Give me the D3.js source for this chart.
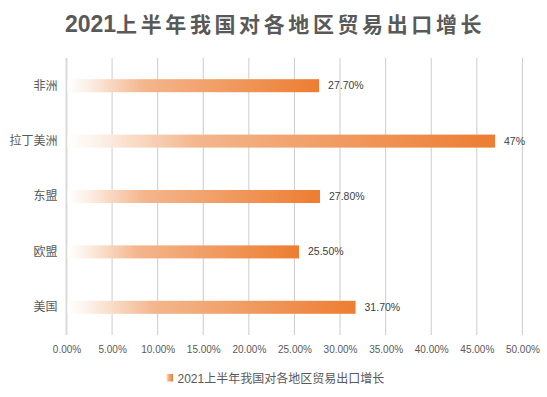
<!DOCTYPE html>
<html>
<head>
<meta charset="utf-8">
<title>2021上半年我国对各地区贸易出口增长</title>
<script src="https://cdn.jsdelivr.net/npm/d3@7/dist/d3.min.js"></script>
<style>
  body { margin: 0; background: #fff; }
  svg { display: block; font-family: "Liberation Sans", "Noto Sans CJK SC", sans-serif; }
</style>
</head>
<body>
<div id="chart"></div>
<script>
// data
var regions = ["非洲", "拉丁美洲", "东盟", "欧盟", "美国"];
var growth = [0.277, 0.47, 0.278, 0.255, 0.317];
var growthLabels = ["27.70%", "47%", "27.80%", "25.50%", "31.70%"];
var xTicks = [0, 0.05, 0.10, 0.15, 0.20, 0.25, 0.30, 0.35, 0.40, 0.45, 0.50];
var seriesName = "2021上半年我国对各地区贸易出口增长";
var titleYear = "2021";
var titleRest = "上半年我国对各地区贸易出口增长";

var W = 547, H = 397;
var plotTop = 58, plotBottom = 335, plotLeft = 66.5, plotRight = 522.4;

var svg = d3.select("#chart").append("svg").attr("width", W).attr("height", H);

// gradient: white on the left -> orange on the right, per bar
var defs = svg.append("defs");
var grad = defs.append("linearGradient").attr("id", "barGrad")
  .attr("x1", "0%").attr("x2", "100%").attr("y1", "0%").attr("y2", "0%");
grad.append("stop").attr("offset", "0%").attr("stop-color", "#ffffff");
grad.append("stop").attr("offset", "8%").attr("stop-color", "#fcefe6");
grad.append("stop").attr("offset", "30%").attr("stop-color", "#f4b68d");
grad.append("stop").attr("offset", "100%").attr("stop-color", "#ed7d31");

var x = d3.scaleLinear().domain([0, 0.5]).range([plotLeft, plotRight]);
var y = d3.scaleBand().domain(regions).range([plotTop, plotBottom])
  .paddingInner(0.765).paddingOuter(0.3825);

// title
var title = svg.append("text")
  .attr("x", 275).attr("y", 32)
  .attr("text-anchor", "middle")
  .attr("font-size", 21).attr("font-weight", "bold")
  .attr("fill", "#595959");
title.append("tspan").attr("font-size", 23).text(titleYear);
title.append("tspan").attr("letter-spacing", 3.6).text(titleRest);

// vertical gridlines
svg.append("g").selectAll("line").data(xTicks.slice(1)).join("line")
  .attr("x1", d => x(d)).attr("x2", d => x(d))
  .attr("y1", plotTop).attr("y2", plotBottom)
  .attr("stroke", "#cccccc").attr("stroke-width", 1);

// category axis line at 0
svg.append("line")
  .attr("x1", x(0)).attr("x2", x(0)).attr("y1", plotTop).attr("y2", plotBottom)
  .attr("stroke", "#d9d9d9").attr("stroke-width", 2);

// x axis labels
var xAxis = d3.axisBottom(x).tickValues(xTicks).tickSize(0).tickFormat(d3.format(".2%"));
var gx = svg.append("g").attr("transform", "translate(0," + (plotBottom + 8) + ")").call(xAxis);
gx.select(".domain").remove();
gx.selectAll("text").attr("font-size", 10).attr("fill", "#595959")
  .attr("font-family", "Liberation Sans, sans-serif");

// y axis labels
var yAxis = d3.axisLeft(y).tickSize(0).tickPadding(9);
var gy = svg.append("g").attr("transform", "translate(" + x(0) + ",0)").call(yAxis);
gy.select(".domain").remove();
gy.selectAll("text").attr("font-size", 12).attr("fill", "#595959")
  .attr("font-family", "Noto Sans CJK SC, sans-serif");

// bars
svg.append("g").selectAll("rect").data(regions).join("rect")
  .attr("x", x(0) + 1)
  .attr("y", d => y(d))
  .attr("width", (d, i) => x(growth[i]) - x(0) - 1)
  .attr("height", y.bandwidth())
  .attr("fill", "url(#barGrad)");

// value labels
svg.append("g").selectAll("text").data(regions).join("text")
  .attr("x", (d, i) => x(growth[i]) + 9)
  .attr("y", d => y(d) + y.bandwidth() / 2 + 3.5)
  .attr("font-size", 10.5).attr("fill", "#404040")
  .text((d, i) => growthLabels[i]);

// legend
var legend = svg.append("g").attr("transform", "translate(166,374)");
legend.append("rect").attr("width", 7).attr("height", 7.5).attr("fill", "url(#barGrad)");
legend.append("text").attr("x", 11.5).attr("y", 8.5)
  .attr("font-size", 12).attr("fill", "#595959")
  .text(seriesName);
</script>
</body>
</html>
